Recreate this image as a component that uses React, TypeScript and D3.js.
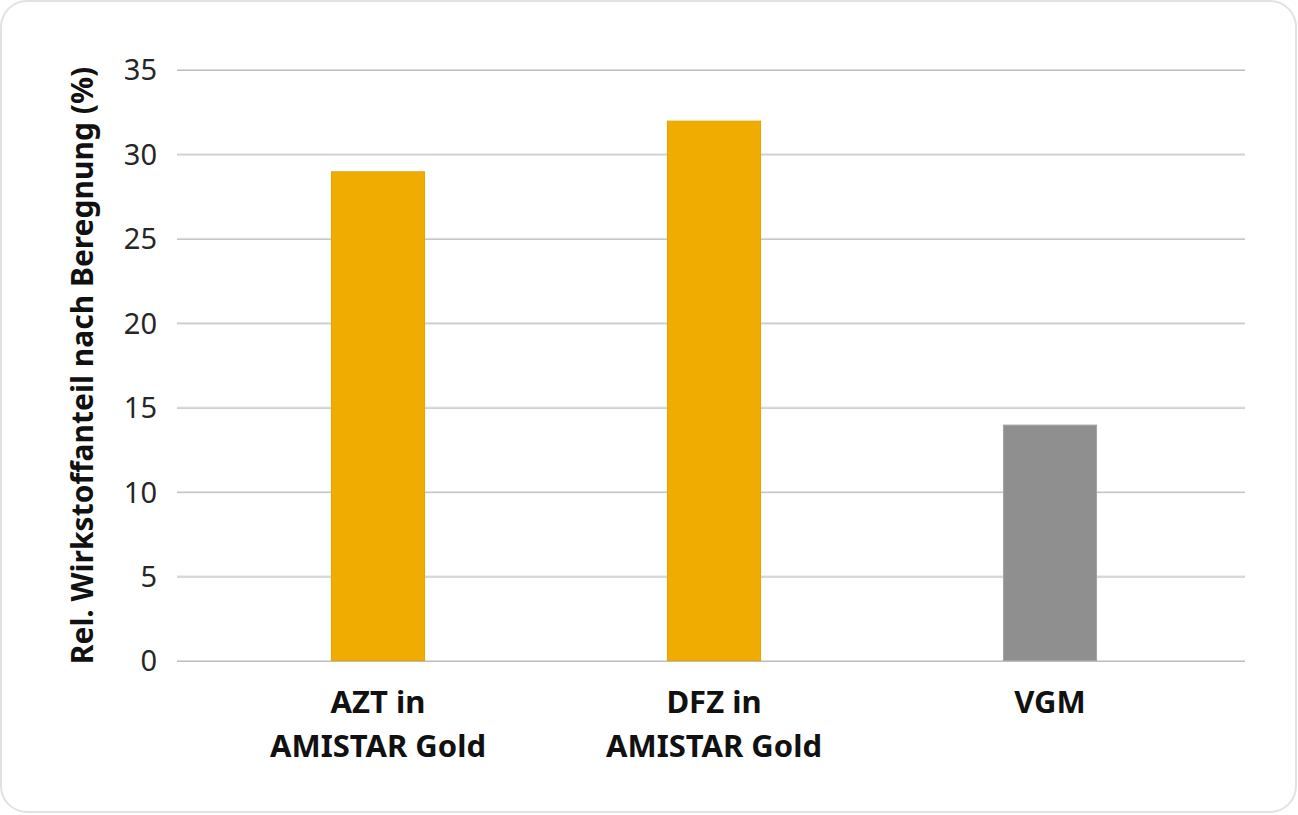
import React from 'react';
import * as d3 from 'd3';

const categories: string[][] = [
  ['AZT in', 'AMISTAR Gold'],
  ['DFZ in', 'AMISTAR Gold'],
  ['VGM'],
];
const values = [29, 32, 14];
const barColors = ['#F0AC00', '#F0AC00', '#8F8F8F'];
const barStrokes = ['#E3A300', '#E3A300', '#A3A3A3'];
const yTicks = [0, 5, 10, 15, 20, 25, 30, 35];
const yTitle = 'Rel. Wirkstoffanteil nach Beregnung (%)';

const W = 1298;
const H = 815;
const font = '"Noto Sans", "Open Sans", sans-serif';

const App: React.FC = () => {
  const x = d3.scaleBand<number>()
    .domain(d3.range(values.length))
    .range([210, 1218])
    .paddingInner(0.72)
    .paddingOuter(0.36);

  const y = d3.scaleLinear().domain([0, 35]).range([661, 70]);

  const gridLeft = 177;
  const gridRight = 1245;

  return (
    <div style={{ position: 'fixed', left: 0, top: 0, width: W, height: H, background: '#fff' }}>
      <svg width={W} height={H} style={{ display: 'block' }}>
        <rect x={1} y={1} width={W - 3} height={H - 4} rx={26} ry={26}
          fill="#fff" stroke="#e2e2e2" strokeWidth={2} />

        {/* grid lines */}
        {yTicks.map(t => (
          <g key={t}>
            <line x1={gridLeft} x2={gridRight} y1={y(t) - 0.5} y2={y(t) - 0.5} stroke="#dcdcdc" strokeWidth={1} />
            <line x1={gridLeft} x2={gridRight} y1={y(t) + 0.5} y2={y(t) + 0.5} stroke="#bdbdbd" strokeWidth={1} />
          </g>
        ))}

        {/* y tick labels */}
        {yTicks.map(t => (
          <text key={t} x={157} y={y(t)} dy="0.36em" textAnchor="end"
            fontFamily={font} fontSize={29} fill="#262626">{t}</text>
        ))}

        {/* bars */}
        {values.map((v, i) => (
          <rect key={i}
            x={x(i)! + 0.5} y={y(v) + 0.5}
            width={x.bandwidth() - 1} height={y(0) - y(v) - 1}
            fill={barColors[i]} stroke={barStrokes[i]} strokeWidth={1} />
        ))}

        {/* x labels */}
        {categories.map((lines, i) => (
          <text key={i} textAnchor="middle" fontFamily={font} fontSize={31}
            fontWeight="bold" fill="#111">
            {lines.map((l, j) => (
              <tspan key={j} x={x(i)! + x.bandwidth() / 2} y={713 + j * 44}>{l}</tspan>
            ))}
          </text>
        ))}

        {/* y title */}
        <text transform={`translate(93, ${y(17.5)}) rotate(-90)`} textAnchor="middle"
          fontFamily={font} fontSize={30} fontWeight="bold" fill="#111">{yTitle}</text>
      </svg>
    </div>
  );
};

export default App;
